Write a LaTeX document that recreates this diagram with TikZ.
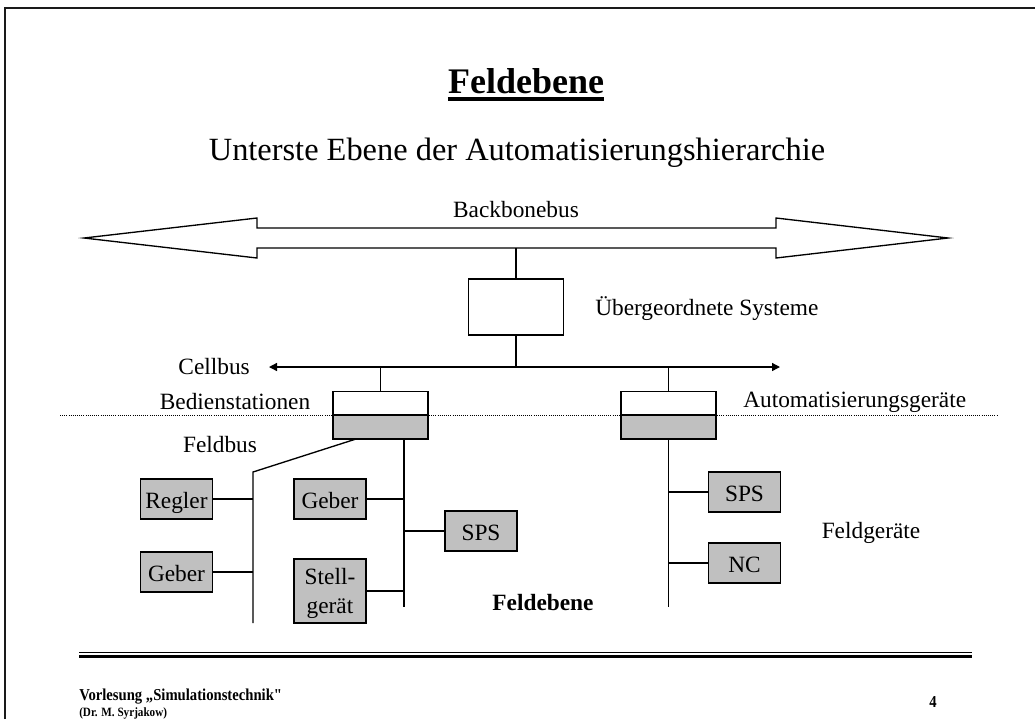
\documentclass[tikz,border=0pt]{standalone}
\usepackage{fontspec}
\setmainfont{Liberation Serif}
\newfontfamily\footfont{Liberation Serif}[Ligatures=TeXOff, FakeStretch=0.88]
\usepackage{tikz}
\usetikzlibrary{positioning, arrows.meta, calc}
\definecolor{devgray}{HTML}{C0C0C0}
\definecolor{framegray}{HTML}{1A1A1A}

\begin{document}
\begin{tikzpicture}[x=0.75pt, y=-0.75pt,
    lbl/.style={font=\fontsize{17.5}{21}\selectfont, inner sep=0pt},
    stbox/.style={draw, line width=1.2pt, minimum width=71.25pt, minimum height=17.5pt,
                  inner sep=0pt, outer sep=0pt},
    dev/.style={draw, line width=1.2pt, fill=devgray, minimum width=54pt, minimum height=30pt,
                font=\fontsize{17.5}{22}\selectfont, align=center, inner sep=0pt},
    oneline/.style={text height=13.5pt, text depth=0pt},
    bus/.style={line width=1pt},
    busarr/.style={bus, {Triangle[length=6pt, width=6pt]}-{Triangle[length=6pt, width=6pt]}},
    foot/.style={font=\footfont\bfseries\fontsize{12.5}{14}\selectfont, inner sep=0pt},
]
\useasboundingbox (0,0) rectangle (1035,719);
\fill[white] (0,0) rectangle (1035,719);
\draw[line width=2pt, framegray] (5,719) -- (5,8) -- (1035,8);

\node[anchor=base, inner sep=0pt, font=\bfseries\fontsize{27}{32}\selectfont] (title) at (526,93) {Feldebene};
\draw[line width=2.4pt] ([yshift=-4.5pt]title.base west) -- ([yshift=-4.5pt]title.base east);
\node[anchor=base, inner sep=0pt, font=\fontsize{24.3}{28}\selectfont] (subtitle) at (517,160)
  {Unterste Ebene der Automatisierungshierarchie};
\node[lbl, anchor=base] (bblabel) at (516,217) {Backbonebus};

\draw[line width=1pt, line join=miter]
  (84,238) -- (257,218) -- (257,228) -- (776,228) -- (776,218) -- (948,238)
  -- (776,258) -- (776,248) -- (257,248) -- (257,258) -- cycle;
\coordinate (bbdown) at (516,248);

\node[stbox, minimum height=42pt] (uebsys) at (516,307) {};
\node[lbl, anchor=west] (uebtext) at (595,309) {Übergeordnete Systeme};
\draw[bus] (bbdown) -- (uebsys.north);

\coordinate (cellL) at (269,367);
\coordinate (cellR) at (780,367);
\draw[busarr] (cellL) -- (cellR);
\draw[bus] (uebsys.south) -- (uebsys.south |- cellL);
\node[lbl, anchor=east] (celltext) at (250,367) {Cellbus};

\coordinate (dotL) at (60,415);
\coordinate (dotR) at (998,415);
\draw[densely dotted, line width=0.6pt] (dotL) -- (dotR);

\node[stbox, anchor=south, fill=white] (stTopL) at (380.5,415) {};
\node[stbox, anchor=north, fill=devgray, minimum height=18pt] (stBotL) at (380.5,415) {};
\node[stbox, anchor=south, fill=white] (stTopR) at (668.5,415) {};
\node[stbox, anchor=north, fill=devgray, minimum height=18pt] (stBotR) at (668.5,415) {};
\draw[bus] (stTopL.north) -- (stTopL.north |- cellL);
\draw[bus] (stTopR.north) -- (stTopR.north |- cellL);

\node[lbl] (bedtext) at (235,402) {Bedienstationen};
\node[lbl, anchor=west] (autotext) at (743,402) {Automatisierungsgeräte};
\node[lbl] (fbtext) at (220,445) {Feldbus};

\coordinate (fbStart) at (356,439);
\coordinate (fbTop) at (253,472);
\coordinate (fbEnd) at (253,623);
\draw[bus] (fbStart) -- (fbTop) -- (fbEnd);
\coordinate (busMtop) at (404,439);
\coordinate (busMend) at (404,607);
\draw[bus] (busMtop) -- (busMend);
\coordinate (busRend) at (668.5,607);
\draw[bus] (stBotR.south) -- (busRend);

\node[dev, oneline] (regler) at (176.5,499) {Regler};
\node[dev, oneline] (geberA) at (176.5,572) {Geber};
\node[dev, oneline] (geberB) at (330,499) {Geber};
\node[dev, oneline] (spsA) at (481,531) {SPS};
\node[dev, minimum height=48pt, text depth=0pt] (stell) at (330,591) {Stell-\\gerät};
\node[dev, oneline] (spsB) at (744.5,492) {SPS};
\node[dev, oneline] (nc) at (744.5,563) {NC};

\draw[bus] (regler.east) -- (regler.east -| fbTop);
\draw[bus] (geberA.east) -- (geberA.east -| fbTop);
\draw[bus] (geberB.east) -- (geberB.east -| busMtop);
\draw[bus] (stell.east) -- (stell.east -| busMtop);
\draw[bus] (spsA.west) -- (spsA.west -| busMtop);
\draw[bus] (spsB.west) -- (spsB.west -| busRend);
\draw[bus] (nc.west) -- (nc.west -| busRend);

\node[lbl, font=\bfseries\fontsize{17.5}{21}\selectfont] (feldtext) at (543,603) {Feldebene};
\node[lbl] (fgtext) at (871,533) {Feldgeräte};

\draw[line width=0.8pt] (79,652.5) -- (972,652.5);
\draw[line width=2.4pt] (79,656.5) -- (972,656.5);
\node[foot, anchor=base west] (vorl) at (79,700) {Vorlesung „Simulationstechnik"};
\node[foot, anchor=base west, font=\footfont\bfseries\fontsize{9.5}{11}\selectfont] (dozent) at (79,716) {(Dr. M. Syrjakow)};
\node[foot, anchor=base] (page) at (933,707) {4};
\end{tikzpicture}
\end{document}
